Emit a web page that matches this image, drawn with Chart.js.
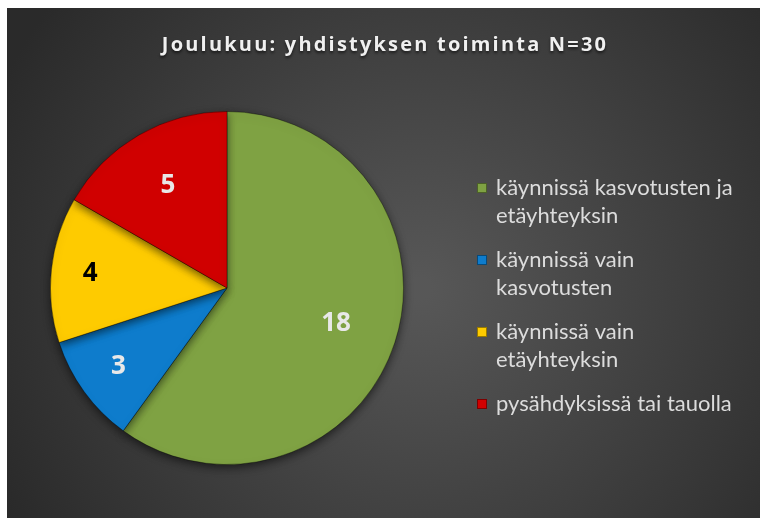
<!DOCTYPE html>
<html><head><meta charset="utf-8">
<script src="https://cdn.jsdelivr.net/npm/chart.js@4"></script>
<style>
html,body{margin:0;background:#fff;overflow:hidden;}
#wrap{position:absolute;left:7px;top:8px;width:753px;height:510px;}
</style>
</head><body>
<div id="wrap"><canvas id="c" width="753" height="510"></canvas></div>
<script>
// chart data
const titleText = "Joulukuu: yhdistyksen toiminta N=30";
const categories = [
  ["käynnissä kasvotusten ja", "etäyhteyksin"],
  ["käynnissä vain", "kasvotusten"],
  ["käynnissä vain", "etäyhteyksin"],
  ["pysähdyksissä tai tauolla"]
];
const values = [18, 3, 4, 5];

// styling
const sliceColors = ["#7fa243", "#0e7ccc", "#fecb00", "#d00000"];
const valueColors = ["#e8e8e8", "#e8e8e8", "#000000", "#e8e8e8"];
const labelRadius = [0.65, 0.76, 0.78, 0.67];
const FONT = "Lato, 'Open Sans', sans-serif";
const BOLD = "'Open Sans', sans-serif";

const backdrop = {
  id: "backdrop",
  beforeDraw(chart) {
    const {ctx, width, height} = chart;
    const g = ctx.createRadialGradient(width * 0.55, height * 0.55, 10, width * 0.55, height * 0.55, width * 0.62);
    g.addColorStop(0, "#575757");
    g.addColorStop(1, "#2a2a2a");
    ctx.save();
    ctx.fillStyle = g;
    ctx.fillRect(0, 0, width, height);

    ctx.font = "bold 20px " + BOLD;
    ctx.letterSpacing = "2.2px";
    ctx.fillStyle = "#f0f0f0";
    ctx.textAlign = "center";
    ctx.textBaseline = "middle";
    ctx.shadowColor = "rgba(0,0,0,0.6)";
    ctx.shadowBlur = 3;
    ctx.shadowOffsetY = 2;
    ctx.fillText(titleText, 378, 37);
    ctx.restore();
  },
  beforeDatasetsDraw(chart) {
    const ctx = chart.ctx;
    ctx.save();
    ctx.shadowColor = "rgba(0,0,0,0.55)";
    ctx.shadowBlur = 8;
    ctx.shadowOffsetY = 3;
  },
  afterDatasetsDraw(chart) {
    const ctx = chart.ctx;
    ctx.restore();
    const meta = chart.getDatasetMeta(0);
    ctx.save();
    ctx.font = "bold 26px " + BOLD;
    ctx.textAlign = "center";
    ctx.textBaseline = "middle";
    meta.data.forEach((arc, i) => {
      const p = arc.getProps(["x", "y", "startAngle", "endAngle", "outerRadius"], true);
      const mid = (p.startAngle + p.endAngle) / 2;
      const r = p.outerRadius * labelRadius[i];
      ctx.fillStyle = valueColors[i];
      ctx.fillText(String(values[i]), p.x + Math.cos(mid) * r, p.y + Math.sin(mid) * r);
    });
    ctx.restore();
  },
  afterDraw(chart) {
    const ctx = chart.ctx;
    ctx.save();
    ctx.font = "22px " + FONT;
    ctx.textBaseline = "middle";
    ctx.textAlign = "left";
    let y = 180;
    categories.forEach((lines, i) => {
      ctx.fillStyle = sliceColors[i];
      ctx.fillRect(470, y - 5, 10, 10);
      ctx.strokeStyle = "rgba(0,0,0,0.4)";
      ctx.strokeRect(470.5, y - 4.5, 9, 9);
      ctx.fillStyle = "#dcdcdc";
      lines.forEach((t, k) => ctx.fillText(t, 489, y + k * 28));
      y += lines.length * 28 + 16;
    });
    ctx.restore();
  }
};

new Chart(document.getElementById("c"), {
  type: "pie",
  data: {
    labels: categories,
    datasets: [{
      data: values,
      backgroundColor: sliceColors,
      borderColor: "rgba(0,0,0,0.35)",
      borderWidth: 1
    }]
  },
  options: {
    responsive: false,
    animation: false,
    layout: {padding: {left: 43, right: 356, top: 103, bottom: 53}},
    plugins: {
      legend: {display: false},
      tooltip: {enabled: false},
      title: {display: false}
    }
  },
  plugins: [backdrop]
});
</script>
</body></html>
